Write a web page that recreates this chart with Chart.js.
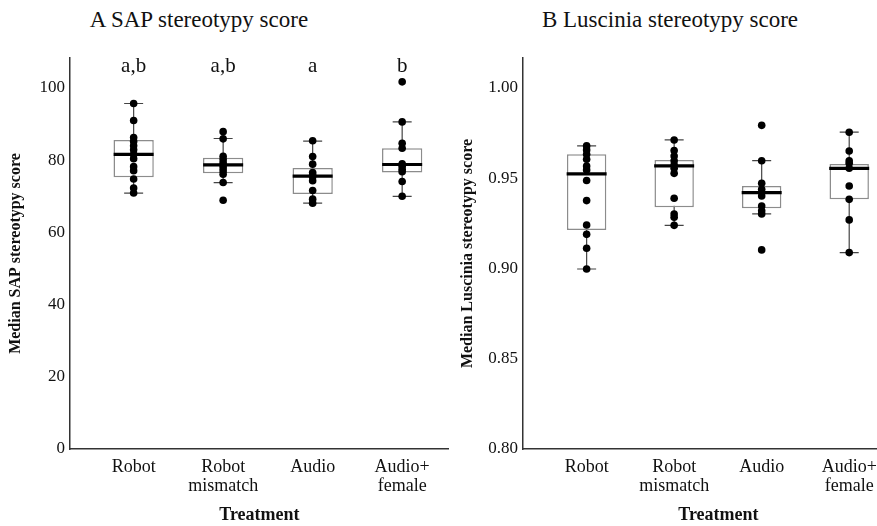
<!DOCTYPE html>
<html>
<head>
<meta charset="utf-8">
<script src="https://cdn.jsdelivr.net/npm/chart.js@4"></script>
<style>
  html, body { margin: 0; padding: 0; background: #fff; overflow: hidden; }
  body { width: 877px; height: 526px; position: relative; }
  .panel { position: absolute; top: 0; height: 526px; }
  #panel-a { left: 0; width: 472px; }
  #panel-b { left: 452px; width: 485px; }
  .title {
    position: absolute; top: 7px; width: 320px; text-align: center;
    font: 23px/26px 'Liberation Serif', 'Times New Roman', serif; color: #111;
  }
</style>
</head>
<body>
<div class="title" style="left:39px">A SAP stereotypy score</div>
<div class="title" style="left:510px">B Luscinia stereotypy score</div>
<div class="panel" id="panel-a"><canvas id="chart-a"></canvas></div>
<div class="panel" id="panel-b"><canvas id="chart-b"></canvas></div>
<script>
// ---- data ----
const categories = [['Robot'], ['Robot', 'mismatch'], ['Audio'], ['Audio+', 'female']];
const sapLetters = ['a,b', 'a,b', 'a', 'b'];

const sapTicks = [0, 20, 40, 60, 80, 100];
const sapMin = [70.9, 73.8, 68.1, 70.0];
const sapQ1 = [75.3, 76.4, 70.6, 76.6];
const sapMedian = [81.6, 78.7, 75.6, 78.8];
const sapQ3 = [85.6, 80.7, 77.8, 83.3];
const sapMax = [95.7, 86.0, 85.3, 90.6];
const sapPoints = [
    [95.7, 91.0, 86.3, 85.2, 84.0, 82.9, 81.6, 80.4, 78.2, 77.1, 74.8, 72.3, 70.9],
    [87.9, 85.9, 81.1, 80.2, 79.3, 78.6, 77.8, 77.0, 76.1, 73.8, 68.9],
    [85.4, 81.0, 78.9, 76.6, 75.9, 75.4, 74.3, 71.6, 69.2, 68.1],
    [101.7, 90.6, 84.7, 83.3, 79.0, 78.3, 77.5, 76.8, 74.1, 70.0]
];

const lusTicks = [0.80, 0.85, 0.90, 0.95, 1.00];
const lusMin = [0.8997, 0.9239, 0.9302, 0.9088];
const lusQ1 = [0.9213, 0.9339, 0.9333, 0.9383];
const lusMedian = [0.9524, 0.9568, 0.9420, 0.9555];
const lusQ3 = [0.9633, 0.9601, 0.9457, 0.9579];
const lusMax = [0.9679, 0.9712, 0.9597, 0.9755];
const lusPoints = [
    [0.9679, 0.9657, 0.9633, 0.9605, 0.9568, 0.9546, 0.9487, 0.9376, 0.9241, 0.9189, 0.9112, 0.8997],
    [0.9712, 0.9653, 0.9623, 0.9597, 0.9573, 0.9555, 0.9527, 0.9389, 0.9302, 0.9284, 0.9239],
    [0.9793, 0.9597, 0.9472, 0.9439, 0.9402, 0.9346, 0.9320, 0.9302, 0.9103],
    [0.9755, 0.9651, 0.9597, 0.9583, 0.9555, 0.9457, 0.9383, 0.9269, 0.9088]
];

const SERIF = "'Liberation Serif', 'Times New Roman', serif";
Chart.defaults.font.family = SERIF;
Chart.defaults.color = '#111';

// significance letters above each box, placed through the scales
const lettersPlugin = {
    id: 'letters',
    afterDatasetsDraw(chart, args, opts) {
        if (!opts.labels) return;
        const { ctx, scales: { x, y } } = chart;
        ctx.save();
        ctx.font = '21px ' + SERIF;
        ctx.fillStyle = '#111';
        ctx.textAlign = 'center';
        ctx.textBaseline = 'middle';
        opts.labels.forEach((t, i) => {
            ctx.fillText(t, x.getPixelForValue(i + 1), y.getPixelForValue(opts.level));
        });
        ctx.restore();
    }
};

function makePanel(id, p) {
    const ctx = document.getElementById(id).getContext('2d');
    const datasets = [];

    // whiskers (one segment per group)
    categories.forEach((c, i) => {
        datasets.push({
            type: 'scatter',
            data: [{ x: i + 1, y: p.min[i] }, { x: i + 1, y: p.max[i] }],
            showLine: true,
            borderColor: '#444',
            borderWidth: 1.2,
            pointRadius: 0,
            order: 5
        });
    });

    // boxes as floating bars
    datasets.push({
        type: 'bar',
        data: categories.map((c, i) => ({ x: i + 1, y: [p.q1[i], p.q3[i]] })),
        backgroundColor: '#fff',
        borderColor: '#8c8c8c',
        borderWidth: 1.5,
        borderSkipped: false,
        barPercentage: 0.45,
        categoryPercentage: 1,
        order: 4
    });

    // whisker caps
    datasets.push({
        type: 'scatter',
        data: categories.flatMap((c, i) => [{ x: i + 1, y: p.min[i] }, { x: i + 1, y: p.max[i] }]),
        pointStyle: 'line',
        pointRadius: 9.5,
        pointHoverRadius: 9.5,
        borderColor: '#444',
        pointBorderWidth: 1.2,
        order: 3
    });

    // medians
    datasets.push({
        type: 'scatter',
        data: categories.map((c, i) => ({ x: i + 1, y: p.median[i] })),
        pointStyle: 'line',
        pointRadius: 20,
        pointHoverRadius: 20,
        borderColor: '#000',
        pointBorderWidth: 3.2,
        order: 2
    });

    // individual points
    datasets.push({
        type: 'scatter',
        data: categories.flatMap((c, i) => p.points[i].map(v => ({ x: i + 1, y: v }))),
        pointRadius: 3.8,
        pointHoverRadius: 3.8,
        backgroundColor: '#000',
        borderColor: '#000',
        pointBorderWidth: 0,
        order: 1
    });

    return new Chart(ctx, {
        type: 'scatter',
        data: { datasets },
        plugins: [lettersPlugin],
        options: {
            responsive: true,
            maintainAspectRatio: false,
            animation: false,
            events: [],
            layout: { padding: { top: 58, right: p.padRight, bottom: 0, left: 0 } },
            scales: {
                x: {
                    type: 'linear',
                    offset: false,
                    min: p.xMin,
                    max: p.xMax,
                    afterBuildTicks: (s) => { s.ticks = categories.map((c, i) => ({ value: i + 1 })); },
                    afterFit: (s) => {
                        s.height = 77;
                        s.paddingLeft = 0;
                        s.paddingRight = 0;
                    },
                    grid: { display: false, drawTicks: false, offset: false },
                    border: { display: true, color: '#333', width: 1.5 },
                    ticks: {
                        padding: 8,
                        maxRotation: 0,
                        autoSkip: false,
                        color: '#111',
                        font: { size: 18, lineHeight: 1.1 },
                        callback: (v) => categories[v - 1]
                    },
                    title: {
                        display: true,
                        text: 'Treatment',
                        color: '#111',
                        padding: { top: 0, bottom: 0 },
                        font: { size: 18, weight: 'bold' }
                    }
                },
                y: {
                    min: p.yMin,
                    max: p.yMax,
                    afterBuildTicks: (s) => { s.ticks = p.ticks.map(v => ({ value: v })); },
                    afterFit: (s) => { s.width = p.yWidth; },
                    grid: { display: false, drawTicks: false },
                    border: { display: true, color: '#333', width: 1.5 },
                    ticks: {
                        padding: 5,
                        color: '#111',
                        font: { size: 17 },
                        callback: p.tickFormat
                    },
                    title: {
                        display: true,
                        text: p.yTitle,
                        color: '#111',
                        padding: { top: 6, bottom: 0 },
                        font: { size: 16, weight: 'bold' }
                    }
                }
            },
            plugins: {
                legend: { display: false },
                tooltip: { enabled: false },
                letters: { labels: p.letters, level: p.letterLevel }
            }
        }
    });
}

makePanel('chart-a', {
    min: sapMin, q1: sapQ1, median: sapMedian, q3: sapQ3, max: sapMax, points: sapPoints,
    ticks: sapTicks, yMin: 0, yMax: 108.3, tickFormat: (v) => v,
    yTitle: 'Median SAP stereotypy score', yWidth: 70,
    xMin: 0.289, xMax: 4.521, padRight: 12,
    letters: sapLetters, letterLevel: 106
});

makePanel('chart-b', {
    min: lusMin, q1: lusQ1, median: lusMedian, q3: lusQ3, max: lusMax, points: lusPoints,
    ticks: lusTicks, yMin: 0.80, yMax: 1.0166, tickFormat: (v) => v.toFixed(2),
    yTitle: 'Median Luscinia stereotypy score', yWidth: 71,
    xMin: 0.273, xMax: 4.738, padRight: 0,
    letters: null, letterLevel: 0
});
</script>
</body>
</html>
